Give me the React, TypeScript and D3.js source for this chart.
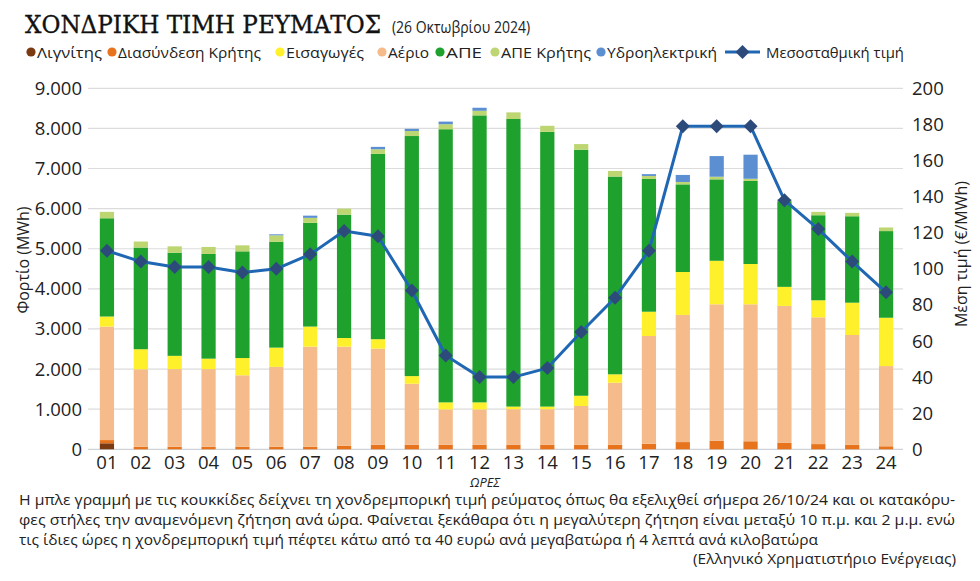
import { useEffect } from 'react';
import * as d3 from 'd3';

// Hourly generation mix (MWh) and average wholesale price (€/MWh), 26/10/2024
const HOURS = ['01', '02', '03', '04', '05', '06', '07', '08', '09', '10', '11', '12',
  '13', '14', '15', '16', '17', '18', '19', '20', '21', '22', '23', '24'];

const LIGNITE = [150, 0, 0, 0, 0, 0, 0, 0, 0, 0, 0, 0, 0, 0, 0, 0, 0, 0, 0, 0, 0, 0, 0, 0];
const CRETE_LINK = [80, 65, 65, 65, 65, 65, 65, 90, 115, 115, 115, 115, 110, 110, 110, 110, 140, 180, 210, 200, 160, 130, 110, 75];
const GAS = [2830, 1930, 1935, 1935, 1780, 1990, 2495, 2470, 2395, 1520, 880, 880, 890, 890, 970, 1550, 2685, 3170, 3405, 3415, 3415, 3160, 2740, 2000];
const IMPORTS = [250, 500, 330, 260, 430, 480, 500, 215, 235, 190, 175, 175, 65, 65, 255, 210, 605, 1070, 1085, 1005, 475, 425, 805, 1205];
const RES = [2450, 2535, 2570, 2610, 2660, 2640, 2585, 3075, 4620, 5985, 6810, 7155, 7170, 6850, 6135, 4930, 3310, 2185, 2030, 2070, 2135, 2120, 2155, 2160];
const RES_CRETE = [160, 150, 160, 175, 150, 160, 125, 150, 115, 125, 125, 115, 165, 150, 140, 140, 75, 60, 65, 55, 50, 85, 85, 90];
const HYDRO = [0, 0, 0, 0, 0, 25, 55, 0, 60, 55, 65, 75, 0, 0, 0, 0, 45, 175, 515, 600, 0, 0, 0, 0];
const PRICE = [110, 104, 101, 101, 98, 100, 108, 121, 118, 88, 52, 40, 40, 45, 65, 84, 110, 179, 179, 179, 138, 122, 104, 87];

const LOAD_TICKS = [0, 1000, 2000, 3000, 4000, 5000, 6000, 7000, 8000, 9000];
const PRICE_TICKS = [0, 20, 40, 60, 80, 100, 120, 140, 160, 180, 200];

// stacking order, bottom to top
const SERIES = [
  { key: 'lignite', name: 'Λιγνίτης', values: LIGNITE, color: '#7a3b12' },
  { key: 'link', name: 'Διασύνδεση Κρήτης', values: CRETE_LINK, color: '#e8731d' },
  { key: 'gas', name: 'Αέριο', values: GAS, color: '#f5bb8b' },
  { key: 'imports', name: 'Εισαγωγές', values: IMPORTS, color: '#fff02c' },
  { key: 'res', name: 'ΑΠΕ', values: RES, color: '#1fa12d' },
  { key: 'resCrete', name: 'ΑΠΕ Κρήτης', values: RES_CRETE, color: '#bdd672' },
  { key: 'hydro', name: 'Υδροηλεκτρική', values: HYDRO, color: '#5b8fd1' },
];

const LINE_COLOR = '#1f67b3';
const MARKER_COLOR = '#2c4b7b';

// legend entries: dot x and text width
const LEGEND = [
  { name: 'Λιγνίτης', color: '#7a3b12', x: 31, w: 65 },
  { name: 'Διασύνδεση Κρήτης', color: '#e8731d', x: 112, w: 143 },
  { name: 'Εισαγωγές', color: '#fff02c', x: 280, w: 78 },
  { name: 'Αέριο', color: '#f5bb8b', x: 382, w: 41 },
  { name: 'ΑΠΕ', color: '#1fa12d', x: 440, w: 36 },
  { name: 'ΑΠΕ Κρήτης', color: '#bdd672', x: 495, w: 90 },
  { name: 'Υδροηλεκτρική', color: '#5b8fd1', x: 601, w: 110 },
];

const FOOTER = [
  { text: 'Η μπλε γραμμή με τις κουκκίδες δείχνει τη χονδρεμπορική τιμή ρεύματος όπως θα εξελιχθεί σήμερα 26/10/24 και οι κατακόρυ-', x: 19, y: 505, w: 936 },
  { text: 'φες στήλες την αναμενόμενη ζήτηση ανά ώρα. Φαίνεται ξεκάθαρα ότι η μεγαλύτερη ζήτηση είναι μεταξύ 10 π.μ. και 2 μ.μ. ενώ', x: 19, y: 525, w: 936 },
  { text: 'τις ίδιες ώρες η χονδρεμπορική τιμή πέφτει κάτω από τα 40 ευρώ ανά μεγαβατώρα ή 4 λεπτά ανά κιλοβατώρα', x: 19, y: 544.5, w: 799 },
];

const W = 980;
const H = 581;
const SANS = "'Open Sans', 'Noto Sans', sans-serif";

export default function App() {
  useEffect(() => {
    document.body.style.margin = '0';
  }, []);

  const x = d3.scaleBand<string>()
    .domain(HOURS)
    .range([90, 903])
    .paddingInner(0.58)
    .paddingOuter(0.29);
  const yLoad = d3.scaleLinear().domain([0, 9000]).range([449.3, 88.3]);
  const yPrice = d3.scaleLinear().domain([0, 200]).range([449.3, 88.3]);

  const rows = HOURS.map((h, i) => {
    const r: Record<string, number | string> = { hour: h };
    SERIES.forEach(s => { r[s.key] = s.values[i]; });
    return r;
  });
  const stacked = d3.stack<Record<string, number | string>>()
    .keys(SERIES.map(s => s.key))
    .value((d, k) => d[k] as number)(rows);

  const cx = (h: string) => (x(h) ?? 0) + x.bandwidth() / 2;
  const priceLine = d3.line<number>()
    .x((_, i) => cx(HOURS[i]))
    .y(d => yPrice(d))(PRICE) ?? '';

  const diamond = (px: number, py: number, r: number) =>
    `M${px},${py - r}L${px + r},${py}L${px},${py + r}L${px - r},${py}Z`;

  return (
    <svg width={W} height={H} style={{ display: 'block', background: '#fff' }}>
      {/* title */}
      <text x={25} y={33} fontFamily="'DejaVu Serif', serif" fontSize={24} fill="#111"
        stroke="#111" strokeWidth={0.35}
        textLength={356} lengthAdjust="spacingAndGlyphs">ΧΟΝΔΡΙΚΗ ΤΙΜΗ ΡΕΥΜΑΤΟΣ</text>
      <text x={392} y={33} fontFamily={SANS} fontSize={16} fill="#222"
        textLength={138} lengthAdjust="spacingAndGlyphs">(26 Οκτωβρίου 2024)</text>

      {/* legend */}
      {LEGEND.map(l => (
        <g key={l.name}>
          <circle cx={l.x} cy={52} r={4.6} fill={l.color} />
          <text x={l.x + 6} y={57.5} fontFamily={SANS} fontSize={15} fill="#222"
            textLength={l.w} lengthAdjust="spacingAndGlyphs">{l.name}</text>
        </g>
      ))}
      <line x1={725} x2={760} y1={52} y2={52} stroke={LINE_COLOR} strokeWidth={3} />
      <path d={diamond(742.5, 52, 7)} fill={MARKER_COLOR} />
      <text x={766} y={57.5} fontFamily={SANS} fontSize={15} fill="#222"
        textLength={138} lengthAdjust="spacingAndGlyphs">Μεσοσταθμική τιμή</text>

      {/* grid */}
      {LOAD_TICKS.map(t => (
        <line key={t} x1={88} x2={903} y1={yLoad(t)} y2={yLoad(t)}
          stroke={t === 0 ? '#cfd3d8' : '#dcdcdc'} strokeWidth={1.2} />
      ))}

      {/* stacked bars */}
      {stacked.map((layer, si) => (
        <g key={layer.key} fill={SERIES[si].color}>
          {layer.map((d, i) => (
            d[1] - d[0] > 0 ? (
              <rect key={HOURS[i]} x={x(HOURS[i])} width={x.bandwidth()}
                y={yLoad(d[1])} height={yLoad(d[0]) - yLoad(d[1])} />
            ) : null
          ))}
        </g>
      ))}

      {/* price line */}
      <path d={priceLine} fill="none" stroke={LINE_COLOR} strokeWidth={3} strokeLinejoin="round" />
      {PRICE.map((p, i) => (
        <path key={HOURS[i]} d={diamond(cx(HOURS[i]), yPrice(p), 7)} fill={MARKER_COLOR} />
      ))}

      {/* left axis */}
      {LOAD_TICKS.map(t => (
        <text key={t} x={82} y={yLoad(t) + 6.5} textAnchor="end" fontFamily={SANS}
          fontSize={18.5} fill="#222">{d3.format(',')(t).replace(/,/g, '.')}</text>
      ))}
      <text transform={`translate(29,260) rotate(-90)`} textAnchor="middle"
        fontFamily={SANS} fontSize={16} fill="#222">Φορτίο (MWh)</text>

      {/* right axis */}
      {PRICE_TICKS.map(t => (
        <text key={t} x={912} y={yPrice(t) + 6.5} fontFamily={SANS}
          fontSize={18.5} fill="#222">{t}</text>
      ))}
      <text transform={`translate(967,254) rotate(-90)`} textAnchor="middle"
        fontFamily={SANS} fontSize={16} fill="#222">Μέση τιμή (€/MWh)</text>

      {/* x axis */}
      {HOURS.map(h => (
        <text key={h} x={cx(h)} y={469} textAnchor="middle" fontFamily={SANS}
          fontSize={18.5} fill="#222">{h}</text>
      ))}
      <text x={485} y={487} textAnchor="middle" fontFamily={SANS} fontSize={12.5}
        fontStyle="italic" fill="#222" textLength={30} lengthAdjust="spacingAndGlyphs">ΩΡΕΣ</text>

      {/* caption */}
      {FOOTER.map(f => (
        <text key={f.y} x={f.x} y={f.y} fontFamily={SANS} fontSize={14.5} fill="#222"
          textLength={f.w} lengthAdjust="spacingAndGlyphs">{f.text}</text>
      ))}
      <text x={956} y={564} textAnchor="end" fontFamily={SANS} fontSize={14.5} fill="#222"
        textLength={263} lengthAdjust="spacingAndGlyphs">(Ελληνικό Χρηματιστήριο Ενέργειας)</text>
    </svg>
  );
}
